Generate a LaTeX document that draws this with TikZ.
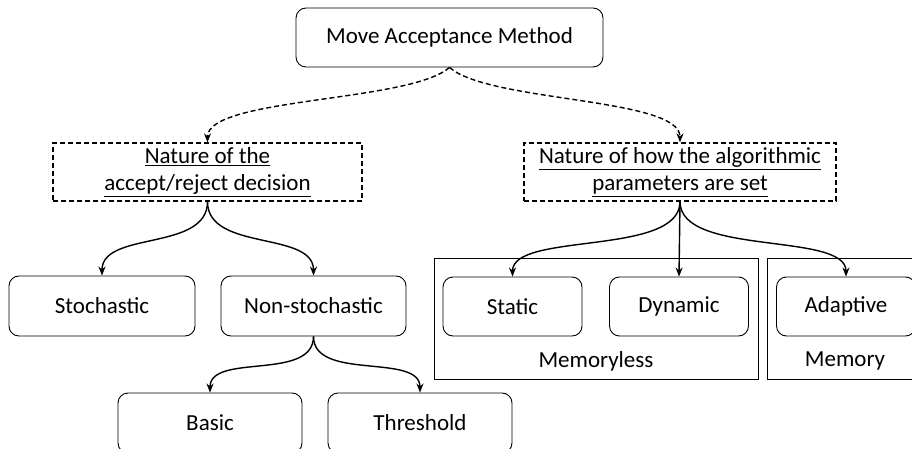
\documentclass[tikz,border=0pt]{standalone}
\usepackage{fontspec}
\setmainfont{Carlito}
\usetikzlibrary{arrows.meta}
\begin{document}
\begin{tikzpicture}[x=1pt,y=-1pt,
  box/.style={draw, line width=0.9pt, rounded corners=10pt, minimum height=60pt, inner sep=0pt, font=\fontsize{23}{27}\selectfont},
  dbox/.style={draw, line width=1.3pt, dash pattern=on 5pt off 3pt, minimum height=58pt, inner sep=0pt, align=center, font=\fontsize{23}{27}\selectfont},
  grp/.style={draw, line width=0.9pt},
  lbl/.style={font=\fontsize{23}{27}\selectfont, inner sep=0pt},
  arr/.style={line width=1.4pt, -{Stealth[length=9pt,width=7pt]}},
  darr/.style={line width=1.4pt, dash pattern=on 5pt off 3pt, -{Stealth[length=9pt,width=7pt]}}]
\useasboundingbox (0,0) rectangle (912,449);
% group rectangles
\draw[grp] (434,258) rectangle (758,379);
\draw[grp] (767,258) rectangle (930,379);
\node[lbl] (mless) at (596,361) {Memoryless};
\node[lbl] (mem) at (845,361) {Memory};
% nodes
\node[box, minimum width=307pt, minimum height=59pt] (top) at (449.5,37.5) {Move Acceptance Method};
\node[dbox, minimum width=309pt] (lt) at (207.5,172) {\underline{Nature of the}\\\underline{accept/reject decision}};
\node[dbox, minimum width=312pt] (rt) at (680,172) {\underline{Nature of how the algorithmic}\\\underline{parameters are set}};
\node[box, minimum width=186pt] (sto) at (102,306) {Stochastic};
\node[box, minimum width=185pt] (non) at (313.5,306) {Non-stochastic};
\node[box, minimum width=184pt] (bas) at (210,423) {Basic};
\node[box, minimum width=184pt] (thr) at (420,423) {Threshold};
\node[box, minimum width=139pt, minimum height=59pt] (sta) at (512.5,306.5) {Static};
\node[box, minimum width=139pt, minimum height=59pt] (dyn) at (679,306.5) {Dynamic};
\node[box, minimum width=139pt, minimum height=59pt] (ada) at (846,306.5) {Adaptive};
% connectors
\draw[darr] (top.south) .. controls +(-40,35) and +(0,-45) .. (lt.north);
\draw[darr] (top.south) .. controls +(40,35) and +(0,-45) .. (rt.north);
\draw[arr] (lt.south) .. controls +(0,50) and +(0,-45) .. (sto.north);
\draw[arr] (lt.south) .. controls +(0,50) and +(0,-45) .. (non.north);
\draw[arr] (non.south) .. controls +(0,45) and +(0,-40) .. (bas.north);
\draw[arr] (non.south) .. controls +(0,45) and +(0,-40) .. (thr.north);
\draw[arr] (rt.south) .. controls +(0,55) and +(0,-45) .. (sta.north);
\draw[arr] (rt.south) -- (dyn.north);
\draw[arr] (rt.south) .. controls +(0,55) and +(0,-45) .. (ada.north);
\end{tikzpicture}
\end{document}
